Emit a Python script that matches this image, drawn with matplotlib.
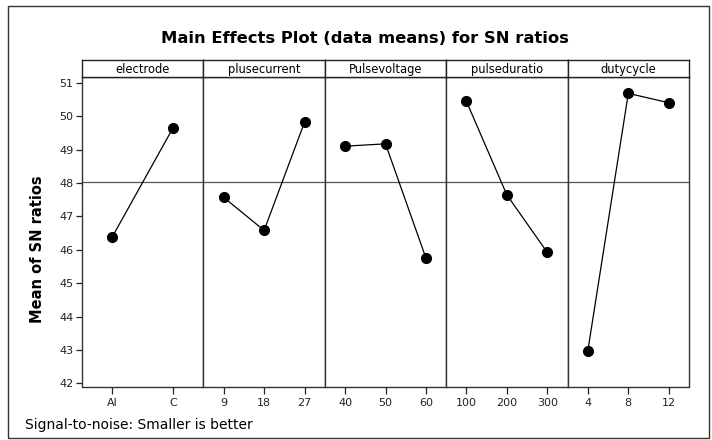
import matplotlib
matplotlib.use("Agg")
import matplotlib.pyplot as plt
from matplotlib.patches import Rectangle

# factor names, level labels and mean SN ratio per level
factors = ["electrode", "plusecurrent", "Pulsevoltage", "pulseduratio", "dutycycle"]
levels = [
    ["Al", "C"],
    ["9", "18", "27"],
    ["40", "50", "60"],
    ["100", "200", "300"],
    ["4", "8", "12"],
]
means = [
    [46.39, 49.65],
    [47.57, 46.58, 49.82],
    [49.10, 49.17, 45.75],
    [50.44, 47.64, 45.92],
    [42.98, 50.68, 50.40],
]
grand_mean = 48.02
y_ticks = [42, 43, 44, 45, 46, 47, 48, 49, 50, 51]

plt.rcParams["font.family"] = "DejaVu Sans"

W, H = 712, 440
fig = plt.figure(figsize=(W / 100, H / 100), dpi=100)

# pixel layout of the panel row
left_px, right_px = 82, 689
top_px, bottom_px = 77, 386.5
head_px = 60
pw = (right_px - left_px) / len(factors)

for i, (name, labs, vals) in enumerate(zip(factors, levels, means)):
    x0 = left_px + i * pw
    ax = fig.add_axes([x0 / W, 1 - bottom_px / H, pw / W, (bottom_px - top_px) / H])
    xs = list(range(1, len(labs) + 1))
    ax.axhline(grand_mean, color="#555555", lw=0.9, zorder=1)
    ax.plot(xs, vals, color="black", lw=0.9, marker="o", ms=7, zorder=3)
    ax.set_xlim(0.5, len(labs) + 0.5)
    ax.set_ylim(41.91, 51.17)
    ax.set_xticks(xs)
    ax.set_xticklabels(labs)
    ax.tick_params(axis="x", direction="out", length=5, width=0.9, labelsize=8, pad=3, colors="#222222")
    if i == 0:
        ax.set_yticks(y_ticks)
        ax.tick_params(axis="y", direction="out", length=4, width=0.9, labelsize=8, pad=2, colors="#222222")
    else:
        ax.set_yticks([])
    for sp in ax.spines.values():
        sp.set_color("#333333")
        sp.set_linewidth(1.0)

    # header strip
    hax = fig.add_axes([x0 / W, 1 - top_px / H, pw / W, (top_px - head_px) / H])
    hax.set_xticks([])
    hax.set_yticks([])
    for sp in hax.spines.values():
        sp.set_color("#222222")
        sp.set_linewidth(1.0)
    hax.text(0.5, 0.45, name, ha="center", va="center", fontsize=8.3, transform=hax.transAxes)

fig.text(365 / W, 1 - 38 / H, "Main Effects Plot (data means) for SN ratios",
         ha="center", va="center", fontsize=11.8, fontweight="bold")
fig.text(38 / W, 1 - 249 / H, "Mean of SN ratios", rotation=90,
         ha="center", va="center", fontsize=10.5, fontweight="bold")
fig.text(25 / W, 1 - 425 / H, "Signal-to-noise: Smaller is better", ha="left", va="center", fontsize=10)

# outer frame
fig.patches.append(Rectangle((8 / W, 2 / H), 701 / W, 432 / H, transform=fig.transFigure,
                             fill=False, edgecolor="#333333", lw=1.0))

fig.savefig("out.png", dpi=100)
